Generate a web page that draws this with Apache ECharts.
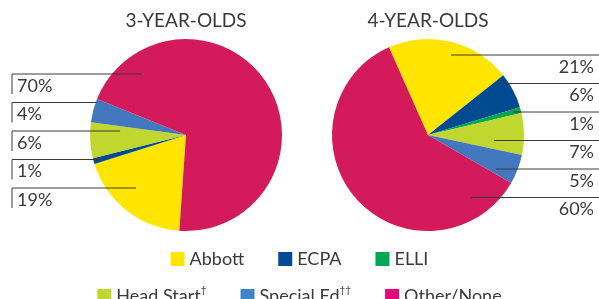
<!DOCTYPE html>
<html>
<head>
<meta charset="utf-8">
<script src="https://cdn.jsdelivr.net/npm/echarts@6/dist/echarts.min.js"></script>
<style>
  html, body { margin: 0; padding: 0; background: #fff; }
  #chart { width: 599px; height: 299px; }
</style>
</head>
<body>
<div id="chart"></div>
<script>
// data (percent of children)
const categories = ['Abbott', 'ECPA', 'ELLI', 'Head Start', 'Special Ed', 'Other/None'];
const threeYearOlds = [19, 1, 0, 6, 4, 70];
const fourYearOlds = [21, 6, 1, 7, 5, 60];
const pieTitles = ['3-YEAR-OLDS', '4-YEAR-OLDS'];
const legendMarks = { 'Head Start': '†', 'Special Ed': '††' };

const sliceColors = ['#FFE500', '#004A92', '#00A651', '#C0D72F', '#4478BE', '#D31B5B'];
const legendColors = ['#FFE500', '#004B93', '#00A651', '#BFD730', '#3F86C8', '#E2087A'];

// pie placement and label column layout
const pies = [
  { cx: 186, cy: 135, r: 96, startAngle: 266, side: 'left', rowTop: 74, lineX: 12, textX: 17 },
  { cx: 428, cy: 135, r: 96, startAngle: 114, side: 'right', rowTop: 55, lineX: 599, textX: 594 }
];
const rowStep = 28.5;
const leaderDepth = 30;
const leaderMargin = 9;
const font = 'Lato';
const textColor = '#3a3a3a';

function sectors(values, pie) {
  // angles clockwise from 12 o'clock, in degrees
  let a = ((90 - pie.startAngle) % 360 + 360) % 360;
  const total = values.reduce((s, v) => s + v, 0);
  return values.map(v => {
    const s = { a0: a, a1: a + v / total * 360 };
    a = s.a1;
    return s;
  });
}

function angleOf(pie, x, y) {
  const deg = Math.atan2(x - pie.cx, -(y - pie.cy)) * 180 / Math.PI;
  return (deg + 360) % 360;
}

function inSector(ang, s) {
  const d = ((ang - s.a0) % 360 + 360) % 360;
  return d <= s.a1 - s.a0;
}

// where a horizontal leader at height y should stop inside slice s
function leaderEnd(pie, s, y) {
  const dy = y - pie.cy;
  const half = Math.sqrt(Math.max(pie.r * pie.r - dy * dy, 0));
  const dir = pie.side === 'left' ? 1 : -1;
  const edge = pie.cx - dir * half;
  let xIn = null, xOut = null;
  for (let t = 0; t <= 2 * half; t += 0.5) {
    const x = edge + dir * t;
    const inside = inSector(angleOf(pie, x, y), s);
    if (inside && xIn === null) xIn = x;
    if (!inside && xIn !== null) { xOut = x; break; }
  }
  if (xIn === null) xIn = edge;
  let end = xIn + dir * leaderDepth;
  if (xOut !== null) {
    const limit = xOut - dir * leaderMargin;
    if (dir * (end - limit) > 0) end = limit;
    if (dir * (end - xIn) < 1) end = xIn + dir;
  }
  return end;
}

function rowsOf(values, secs) {
  // visible slices ordered top to bottom by the height of their mid angle
  const idx = values.map((v, i) => i).filter(i => values[i] > 0);
  idx.sort((a, b) => {
    const ma = (secs[a].a0 + secs[a].a1) / 2 * Math.PI / 180;
    const mb = (secs[b].a0 + secs[b].a1) / 2 * Math.PI / 180;
    return -Math.cos(ma) + Math.cos(mb);
  });
  const rows = {};
  idx.forEach((i, r) => { rows[i] = r; });
  return rows;
}

const chart = echarts.init(document.getElementById('chart'));

const seriesValues = [threeYearOlds, fourYearOlds];
const layouts = seriesValues.map((values, k) => {
  const secs = sectors(values, pies[k]);
  return { secs: secs, rows: rowsOf(values, secs) };
});

function basePie(k) {
  const pie = pies[k];
  return {
    type: 'pie',
    center: [pie.cx, pie.cy],
    radius: pie.r,
    startAngle: pie.startAngle,
    clockwise: true,
    avoidLabelOverlap: false,
    animation: false,
    silent: true,
    emphasis: { disabled: true },
    itemStyle: { borderWidth: 0 }
  };
}

// the coloured slices
function slicesSeries(values, k) {
  return Object.assign(basePie(k), {
    name: pieTitles[k],
    z: 2,
    label: { show: false },
    labelLine: { show: false },
    data: categories.map((name, i) => ({ name: name, value: values[i], itemStyle: { color: sliceColors[i] } }))
  });
}

// same slices, transparent, drawn on top so the leader lines run over the pie
function labelSeries(values, k) {
  const pie = pies[k];
  return Object.assign(basePie(k), {
    name: pieTitles[k] + ' labels',
    z: 5,
    label: {
      position: 'outside',
      formatter: '{c}%',
      fontFamily: font,
      fontSize: 18,
      color: textColor,
      opacity: 1
    },
    labelLine: {
      show: true,
      lineStyle: { color: '#3a3a3a', width: 1, opacity: 1 }
    },
    labelLayout: function (params) {
      const lay = layouts[k];
      const i = params.dataIndex;
      const row = lay.rows[i];
      if (row === undefined) return {};
      const y = pie.rowTop + row * rowStep;
      const end = leaderEnd(pie, lay.secs[i], y);
      const pts = pie.side === 'left'
        ? [[end, y], [pie.lineX, y], [pie.lineX, y + 20]]
        : [[end, y], [pie.lineX, y], [pie.lineX + 1, y]];
      return {
        x: pie.textX,
        y: y + 3,
        align: pie.side,
        verticalAlign: 'top',
        labelLinePoints: pts
      };
    },
    data: categories.map((name, i) => {
      const item = { name: name + ' ', value: values[i], itemStyle: { color: 'rgba(0,0,0,0)' } };
      if (!values[i]) {
        item.label = { show: false };
        item.labelLine = { show: false };
      }
      return item;
    })
  });
}

function legendRow(names, top) {
  return {
    left: 'center',
    top: top,
    padding: [5, 5, 5, 11],
    orient: 'horizontal',
    icon: 'rect',
    itemWidth: 14,
    itemHeight: 14,
    itemGap: 34,
    selectedMode: false,
    data: names.map(n => ({ name: n, itemStyle: { color: legendColors[categories.indexOf(n)] } })),
    formatter: n => legendMarks[n] ? n + '{sup|' + legendMarks[n] + '}' : n,
    textStyle: {
      fontFamily: font,
      fontSize: 18,
      lineHeight: 22,
      color: textColor,
      rich: {
        sup: { fontFamily: font, fontSize: 10, lineHeight: 12, verticalAlign: 'top', color: textColor }
      }
    }
  };
}

const option = {
  animation: false,
  title: pieTitles.map((t, k) => ({
    text: t,
    left: pies[k].cx,
    top: 11,
    padding: 0,
    textAlign: 'center',
    textStyle: { fontFamily: font, fontSize: 19, fontWeight: 'normal', color: textColor }
  })),
  legend: [
    legendRow(categories.slice(0, 3), 243),
    legendRow(categories.slice(3), 280)
  ],
  series: seriesValues.map(slicesSeries).concat(seriesValues.map(labelSeries))
};

chart.setOption(option);
</script>
</body>
</html>
